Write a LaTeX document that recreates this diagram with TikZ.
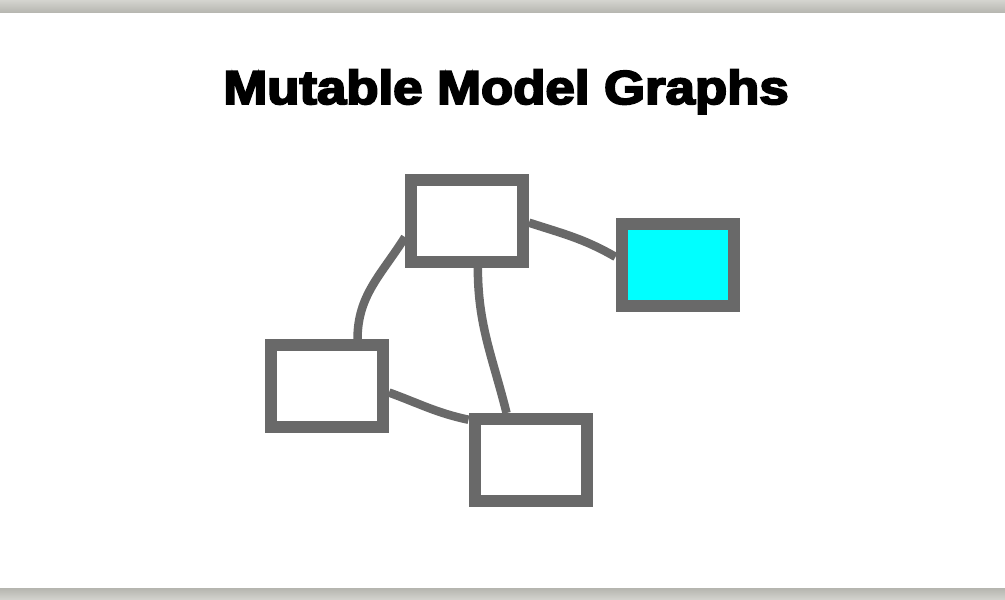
\documentclass[tikz,border=0pt]{standalone}
\usepackage{fontspec}
\newfontfamily\titlefont[BoldFeatures={FakeBold=4}]{Liberation Sans}
\usetikzlibrary{positioning}
\definecolor{edgegray}{RGB}{105,105,105}
\definecolor{nodecyan}{RGB}{0,255,255}
\definecolor{bandlight}{RGB}{212,212,207}
\definecolor{banddark}{RGB}{182,182,176}

\begin{document}
\begin{tikzpicture}[x=1pt,y=-1pt,
        box/.style={draw=edgegray,line width=12pt,fill=white,minimum width=112pt,minimum height=82pt,inner sep=0pt},
        edge/.style={draw=edgegray,line width=8.5pt}]
        \useasboundingbox (0,0) rectangle (1005,600);
        \shade[top color=bandlight,bottom color=banddark] (0,0) rectangle (1005,12.5);
        \shade[top color=banddark,bottom color=bandlight] (0,588.5) rectangle (1005,600);
        \node[anchor=base,xscale=1.11] (title) at (506,104) {\titlefont\bfseries\fontsize{47.5}{50}\selectfont Mutable Model Graphs};
        \node[box] (top) at (467,220.5) {};
        \node[box,fill=nodecyan] (right) at (677.5,264.5) {};
        \node[box] (left) at (327,386) {};
        \node[box] (bottom) at (530.5,460) {};
        \draw[edge] (top.-2) to[out=-18,in=150] (right.173);
        \draw[edge] (top.195) to[out=-122,in=90] (left.57);
        \draw[edge] (top.-77) to[out=-90,in=104] (bottom.117);
        \draw[edge] (left.-6) to[out=-20,in=168] (bottom.147);
    \end{tikzpicture}
\end{document}
